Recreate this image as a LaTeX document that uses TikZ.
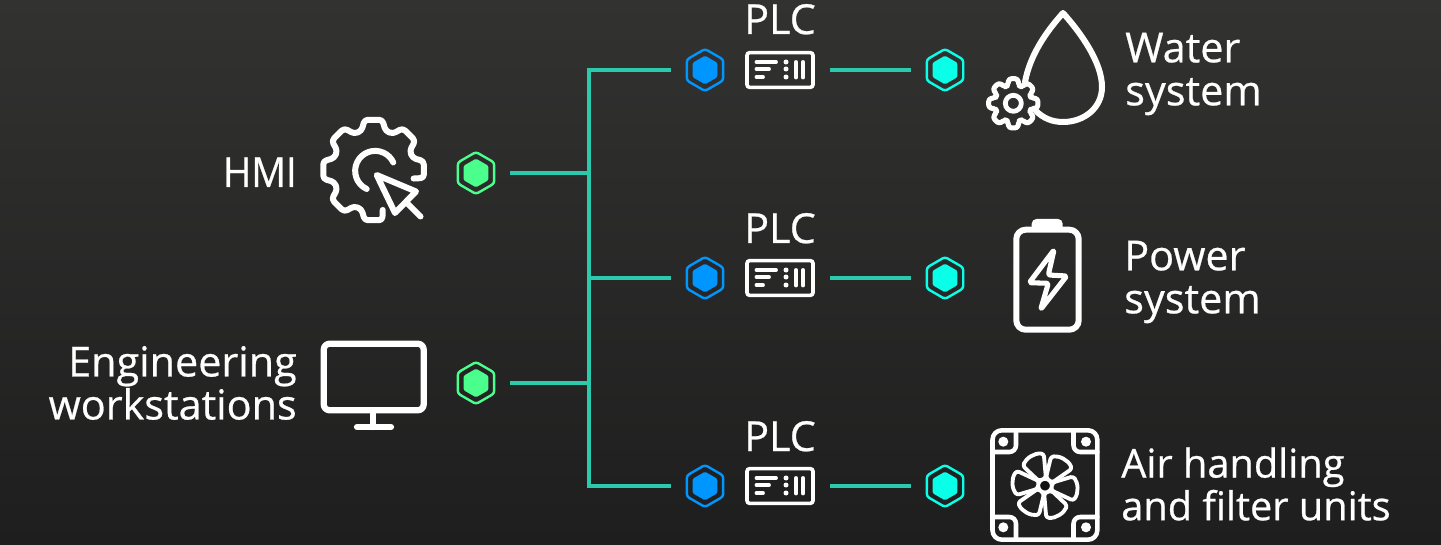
\documentclass[tikz,border=0pt]{standalone}
\usepackage{fontspec}
\setmainfont{Open Sans}[RawFeature={embolden=0.6}]
\usetikzlibrary{shapes.geometric}
\definecolor{bgtop}{HTML}{323231}
\definecolor{bgbot}{HTML}{1E1E1E}
\definecolor{linkc}{HTML}{2CCAAC}
\definecolor{hexgreen}{HTML}{4BFF8C}
\definecolor{hexblue}{HTML}{0096FF}
\definecolor{hexcyan}{HTML}{0AFFE8}
\tikzset{
  hexring/.style={regular polygon,regular polygon sides=6,shape border rotate=30,draw=#1,line width=1.8pt,
    minimum size=31.5pt,inner sep=0pt,outer sep=12pt,rounded corners=2pt},
  hexcore/.style={regular polygon,regular polygon sides=6,shape border rotate=30,fill=#1,
    minimum size=21.5pt,inner sep=0pt,rounded corners=1pt},
  linkline/.style={draw=linkc,line width=2.4pt},
  icon/.style={draw=white,line width=4.5pt,line join=round,line cap=round},
  plcbox/.style={draw=white,line width=2.7pt,rounded corners=2pt,minimum width=49.5pt,minimum height=26pt,inner sep=0pt,outer sep=13pt},
  lbl/.style={text=white,inner sep=0pt,font=\fontsize{31pt}{32.25pt}\selectfont},
  lblsmall/.style={text=white,inner sep=0pt,font=\fontsize{29.8pt}{32pt}\selectfont},
}
\newcommand{\hexpair}[4]{\node[hexring=#4] (#1) at (#2,#3) {};\node[hexcore=#4] (#1core) at (#2,#3) {};}
\newcommand{\plcicon}[3]{%
  \node[plcbox] (#1) at (780,#2) {};
  \node[lbl,anchor=base] (#1label) at (780,#3) {PLC};
  \begin{scope}[shift={(780,#2)}]
    \draw[draw=white,line width=2.9pt,line cap=round]
      (-23.5,-8) -- (-4,-8) (-23.5,-1) -- (-11,-1) (-23.5,7) -- (-17,7)
      (16,-8) -- (16,7.5) (23,-8) -- (23,7.5);
    \foreach \yy in {-8,-1,7} \fill[white] (6,\yy) circle (2.5);
  \end{scope}}
\begin{document}
\begin{tikzpicture}[x=0.75pt,y=-0.75pt]
\useasboundingbox (0,0) rectangle (1441,545);
\shade[top color=bgtop,bottom color=bgbot] (0,0) rectangle (1441,545);

% bus
\coordinate (bustop) at (589,70);
\coordinate (busmid) at (589,278);
\coordinate (busbot) at (589,486);

% hexagons
\hexpair{hmihex}{476}{173}{hexgreen}
\hexpair{enghex}{476}{383}{hexgreen}
\hexpair{inA}{705}{70}{hexblue}
\hexpair{inB}{705}{278}{hexblue}
\hexpair{inC}{705}{486}{hexblue}
\hexpair{outA}{945}{70}{hexcyan}
\hexpair{outB}{945}{278}{hexcyan}
\hexpair{outC}{945}{486}{hexcyan}

% PLCs
\plcicon{plcA}{70}{34}
\plcicon{plcB}{278}{243}
\plcicon{plcC}{486}{451}

% connectors
\draw[linkline,line join=miter] (inA.west) -- (bustop) -- (busbot) -- (inC.west);
\draw[linkline] (inB.west) -- (busmid);
\draw[linkline] (hmihex.east) -- (hmihex.east -| bustop);
\draw[linkline] (enghex.east) -- (enghex.east -| bustop);
\draw[linkline] (plcA.east) -- (outA.west);
\draw[linkline] (plcB.east) -- (outB.west);
\draw[linkline] (plcC.east) -- (outC.west);

% labels
\node[lbl,anchor=base east] (hmilabel) at (297,187) {\scalebox{0.93}[1]{HMI}};
\node[lbl,anchor=east,align=right] (englabel) at (297,383) {Engineering\\workstations};
\node[lbl,anchor=west,align=left] (waterlabel) at (1125,74) {Water\\system};
\node[lbl,anchor=west,align=left] (powerlabel) at (1124,282) {Power\\system};
\node[lblsmall,anchor=west,align=left] (airlabel) at (1121,484) {Air handling\\and filter units};

% HMI gear + cursor
\begin{scope}[shift={(373.5,170)}]
  \draw[icon,rounded corners=2.5pt] (77:41) -- (80:51) -- (100:51) -- (107:41)
    \foreach \t in {135,180,225,270,315} { -- (\t-17:41) -- (\t-10:51) -- (\t+10:51) -- (\t+17:41) }
    -- (343:41) -- (350:51) -- (369:51) -- (372:41);
\end{scope}
\draw[icon] (366.7,189) arc[start angle=115,end angle=335,radius=20];
\draw[icon] (376.7,175) -- (416,191.5) -- (395,213) -- cycle;
\draw[icon] (406,202) -- (420.5,216.5);

% monitor
\draw[icon,line width=4.7pt,rounded corners=4.5pt] (323.7,343.7) rectangle (423.7,410.3);
\draw[icon,line width=4.7pt] (373.3,412) -- (373.3,427);
\draw[icon,line width=4.7pt] (357,427) -- (391,427);

% water drop
\draw[icon] (1025,82) .. controls (1030,55) and (1046,32) .. (1063,13)
  .. controls (1080,32) and (1102,62) .. (1102,87)
  .. controls (1102,108) and (1084,122) .. (1063,122)
  .. controls (1052,122) and (1043,118) .. (1036,111);
\begin{scope}[shift={(1013.3,103.3)}]
  \draw[icon,line width=3.8pt,rounded corners=2pt] (-18:18.5)
    \foreach \t in {0,45,...,315} { -- (\t-18:18.5) -- (\t-10:25) -- (\t+10:25) -- (\t+18:18.5) } -- cycle;
  \draw[icon,line width=3.6pt] (0,0) circle (8);
\end{scope}

% battery
\fill[white,rounded corners=3.5pt] (1031.7,231) -- (1031.7,219) -- (1062.7,219) -- (1062.7,231) -- cycle;
\draw[icon,rounded corners=7pt] (1016.3,229.7) rectangle (1078.7,329.7);
\draw[icon,line width=3.8pt,rounded corners=1.5pt] (1054,250) -- (1029.3,282.7) -- (1048.3,283.3) -- (1040.7,309.3) -- (1066.7,276) -- (1048.3,275) -- cycle;

% fan
\draw[icon,line width=3.4pt,rounded corners=7pt] (992.5,430.3) rectangle (1097.3,539.7);
\draw[icon,line width=3.4pt,rounded corners=5pt] (1016,430.3) -- (1016,452) -- (992.5,452);
\draw[icon,line width=3.4pt,rounded corners=5pt] (1073.5,430.3) -- (1073.5,452) -- (1097.3,452);
\draw[icon,line width=3.4pt,rounded corners=5pt] (1016,539.7) -- (1016,517) -- (992.5,517);
\draw[icon,line width=3.4pt,rounded corners=5pt] (1073.5,539.7) -- (1073.5,517) -- (1097.3,517);
\foreach \px/\py in {1003.3/441.7,1086/441.7,1003.3/527.3,1086/527.3}
  \fill[white] (\px,\py) circle (5);
\foreach \a in {0,60,...,300}{
  \begin{scope}[shift={(1045,485.7)},rotate=\a]
    \draw[icon,line width=2.9pt,rounded corners=2pt] (1,-8) -- (6,-29) .. controls (14,-30) and (23,-26) .. (27,-17) -- (7,-3) -- cycle;
  \end{scope}}
\draw[white,line width=2.4pt,fill=bgbot!60!black] (1045,485.7) circle (6.5);
\end{tikzpicture}
\end{document}
